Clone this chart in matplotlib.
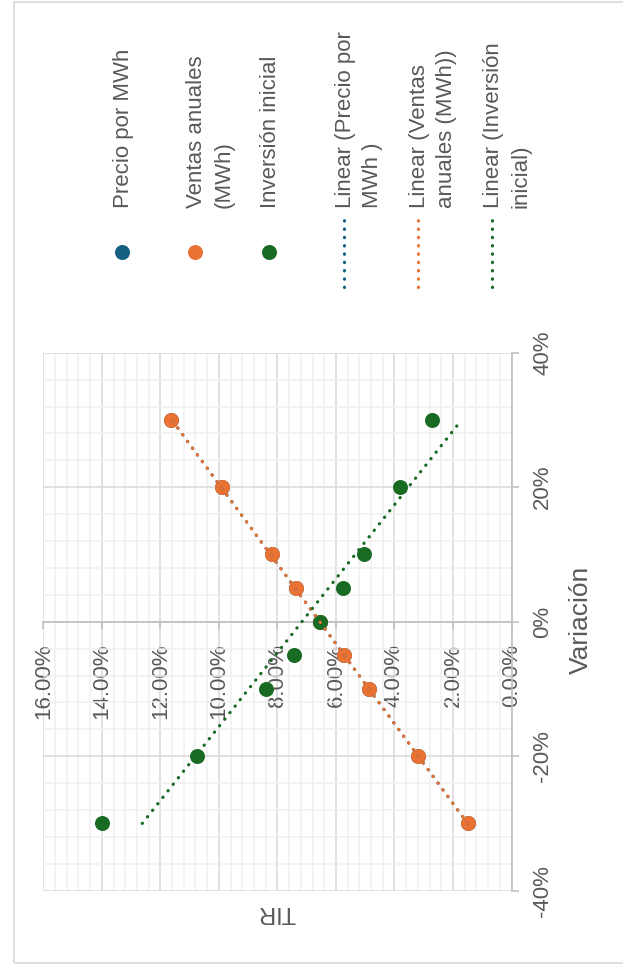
import matplotlib
matplotlib.use('Agg')
import matplotlib.pyplot as plt
import numpy as np
from matplotlib.lines import Line2D
from matplotlib.patches import Rectangle
from matplotlib.ticker import MultipleLocator, FuncFormatter

plt.rcParams['font.family'] = ['Liberation Sans', 'DejaVu Sans']

# data (chart is drawn rotated: TIR runs horizontally, Variación vertically)
variacion = [-30, -20, -10, -5, 0, 5, 10, 20, 30]
tir_precio = [1.50, 3.21, 4.87, 5.72, 6.55, 7.37, 8.20, 9.91, 11.65]
tir_ventas = [1.50, 3.21, 4.87, 5.72, 6.55, 7.37, 8.20, 9.91, 11.65]
tir_inversion = [13.98, 10.76, 8.40, 7.43, 6.55, 5.76, 5.04, 3.81, 2.73]

series_names = ['Precio por MWh', 'Ventas anuales\n(MWh)', 'Inversión inicial']
trend_names = ['Linear (Precio por\nMWh )', 'Linear (Ventas\nanuales (MWh))',
               'Linear (Inversión\ninicial)']
colors = ['#156082', '#E97132', '#196B24']

W, H = 623, 965
TEXT = '#595959'
FS = 16
DOTS = (0, (0.1, 2.5))


def fx(px):
    return px / W


def fy(py):
    return (H - py) / H


fig = plt.figure(figsize=(W / 100, H / 100), dpi=100)

# chart border
fig.add_artist(Rectangle((fx(14), fy(963)), fx(640) - fx(14), fy(2) - fy(963),
                         transform=fig.transFigure, fill=False,
                         edgecolor='#D9D9D9', lw=1.2))

left, right, top, bottom = 43.3, 511.5, 352.7, 890.7
ax = fig.add_axes([fx(left), fy(bottom), fx(right) - fx(left), fy(top) - fy(bottom)])
ax.set_xlim(16, 0)
ax.set_ylim(-40, 40)

ax.xaxis.set_major_locator(MultipleLocator(2))
ax.xaxis.set_minor_locator(MultipleLocator(0.4))
ax.yaxis.set_major_locator(MultipleLocator(20))
ax.yaxis.set_minor_locator(MultipleLocator(4))
ax.grid(which='major', color='#D9D9D9', lw=1.1)
ax.grid(which='minor', color='#F0F0F0', lw=1.1)
ax.set_axisbelow(True)

for side in ['top', 'left']:
    ax.spines[side].set_visible(False)
ax.spines['right'].set_color('#BFBFBF')
ax.spines['right'].set_linewidth(1.2)
ax.spines['bottom'].set_position(('data', 0))
ax.spines['bottom'].set_color('#BFBFBF')
ax.spines['bottom'].set_linewidth(1.2)

ax.yaxis.tick_right()
ax.tick_params(which='major', length=5, width=1.1, color='#BFBFBF',
               labelcolor=TEXT, labelsize=FS)
ax.tick_params(which='minor', length=0)
ax.tick_params(axis='x', pad=11)
ax.tick_params(axis='y', pad=10)
ax.xaxis.set_major_formatter(FuncFormatter(lambda v, p: f'{v:.2f}%'))
ax.yaxis.set_major_formatter(FuncFormatter(lambda v, p: f'{v:.0f}%'))
for lab in ax.get_xticklabels():
    lab.set_rotation(90)
    lab.set_va('top')
for lab in ax.get_yticklabels():
    lab.set_rotation(90)
    lab.set_va('center')

all_series = [tir_precio, tir_ventas, tir_inversion]
for vals, c in zip(all_series, colors):
    ax.plot(vals, variacion, 'o', color=c, ms=10.8, mec='none', zorder=3,
            clip_on=False)

v = np.array(variacion, dtype=float)
for vals, c in zip(all_series, colors):
    b, a = np.polyfit(v, np.array(vals), 1)
    vv = np.array([v.min(), v.max()])
    ax.plot(a + b * vv, vv, color=c, lw=2.3, ls=DOTS,
            dash_capstyle='round', zorder=4)

fig.text(fx(581), fy(620), 'Variación', rotation=90, ha='center', va='center',
         fontsize=19, color=TEXT)
fig.text(fx(277), fy(912), 'TIR', rotation=180, ha='center', va='center',
         fontsize=17, color=TEXT)

# legend (rotated)
text_y = 208
marker_x = [122, 195, 269]
line_x = [344, 418, 492]
for x, name, c in zip(marker_x, series_names, colors):
    fig.add_artist(Line2D([fx(x)], [fy(252)], transform=fig.transFigure,
                          marker='o', ms=10.8, color=c, mec='none', ls='none'))
    fig.text(fx(x - 9), fy(text_y), name, rotation=90, ha='left', va='bottom',
             multialignment='left', fontsize=FS, color=TEXT, linespacing=1.4)
for x, name, c in zip(line_x, trend_names, colors):
    fig.add_artist(Line2D([fx(x), fx(x)], [fy(287), fy(218)],
                          transform=fig.transFigure, color=c, lw=2.3,
                          ls=DOTS, dash_capstyle='round'))
    fig.text(fx(x - 9), fy(text_y), name, rotation=90, ha='left', va='bottom',
             multialignment='left', fontsize=FS, color=TEXT, linespacing=1.4)

fig.savefig('out.png', dpi=100)
